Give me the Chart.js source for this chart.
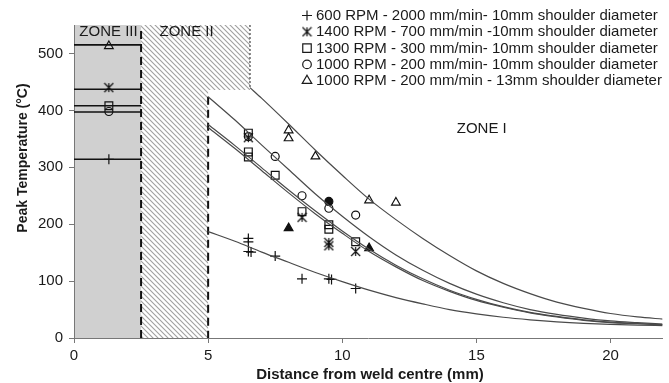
<!DOCTYPE html>
<html>
<head>
<meta charset="utf-8">
<script src="https://cdn.jsdelivr.net/npm/chart.js@4.4.1/dist/chart.umd.min.js"></script>
<style>
    html, body { margin: 0; padding: 0; background: #fff; }
    #wrap { width: 669px; height: 383px; }
</style>
</head>
<body>
<div id="wrap"><canvas id="tempChart" width="669" height="383"></canvas></div>
<script>
// Legend labels, in legend order
const seriesLabels = [
    '600 RPM - 2000 mm/min- 10mm shoulder diameter',
    '1400 RPM - 700 mm/min -10mm shoulder diameter',
    '1300 RPM - 300 mm/min- 10mm shoulder diameter',
    '1000 RPM - 200 mm/min- 10mm shoulder diameter',
    '1000 RPM - 200 mm/min - 13mm shoulder diameter'
];

// Zone boundaries (mm) and zone III plateau temperatures (same order as labels)
const zoneEdges = [2.5, 5, 6.56];
const zoneCutTemp = 436;
const zone3Temps = [314, 437, 408, 397, 515];

// Measured peak temperatures
const plusX = [1.3, 6.5, 6.5, 6.5, 6.6, 7.5, 8.5, 9.5, 9.6, 10.5];
const plusT = [314, 175, 169, 152, 151, 144, 104, 104, 103, 87];
const starX = [1.3, 6.5, 8.5, 9.5, 9.5, 10.5];
const starT = [440, 352, 212, 168, 162, 152];
const squareX = [1.3, 6.5, 6.5, 6.5, 7.5, 8.5, 9.5, 9.5, 10.5];
const squareT = [408, 360, 327, 318, 286, 222, 199, 191, 169];
const circleX = [1.3, 6.5, 7.5, 8.5, 9.5, 10.5];
const circleT = [398, 354, 319, 250, 228, 216];
const triX = [1.3, 8, 8, 9, 11, 12];
const triT = [513, 365, 351, 319, 242, 238];
const solidTriX = [8, 11];
const solidTriT = [193, 158];
const solidCircleX = [9.5];
const solidCircleT = [240];

// Fitted curves in zone I
const fitX = [5, 6, 7, 8, 9, 10, 11, 12, 13, 14, 15, 16, 17, 18, 19, 20, 21, 22];
const fitPlus = [187, 170, 151, 133, 115, 99, 84, 71, 60, 50, 42.5, 36.5, 32, 28.4, 25.8, 24, 22.6, 21.7];
const fitStar = [370, 333, 294, 255, 218, 184, 152, 125, 101, 82, 66, 54, 44, 37, 31, 27, 25, 23];
const fitSquare = [375, 338, 299, 260, 223, 188, 156, 128, 104, 84, 68, 55, 45, 38, 32, 28, 25.5, 23.6];
const fitCircle = [424, 383, 339, 296, 253, 214, 178, 146, 119, 96, 77, 62, 50, 41.5, 35, 30, 27, 24.5];
const fitTriX = [6.56, 7, 8, 9, 10, 11, 12, 13, 14, 15, 16, 17, 18, 19, 20, 21, 22];
const fitTri = [440, 421, 376, 330, 286, 244, 208, 175, 145, 118, 96, 78, 63, 52, 43, 37, 33];

const xTicks = [0, 5, 10, 15, 20];
const yTicks = [0, 100, 200, 300, 400, 500];

const FONT = "'Liberation Sans', Arial, sans-serif";
const INK = '#1a1a1a';

function pairs(xs, ys) {
    return xs.map((x, i) => ({ x: x, y: ys[i] }));
}

// Excel-style star: an X with a vertical bar
function makeStar(size) {
    const c = document.createElement('canvas');
    c.width = size;
    c.height = size;
    const g = c.getContext('2d');
    const m = size / 2, r = size / 2 - 1;
    g.strokeStyle = '#111';
    g.lineWidth = 1.2;
    g.beginPath();
    g.moveTo(m - r, m - r); g.lineTo(m + r, m + r);
    g.moveTo(m + r, m - r); g.lineTo(m - r, m + r);
    g.moveTo(m, m - r); g.lineTo(m, m + r);
    g.stroke();
    return c;
}
const starIcon = makeStar(11);

const seriesMarkers = ['cross', starIcon, 'rect', 'circle', 'triangle'];
const legendRadius = [5, 5, 6, 4.3, 5.5];

function makeHatch(ctx) {
    const c = document.createElement('canvas');
    c.width = 5;
    c.height = 5;
    const g = c.getContext('2d');
    g.strokeStyle = '#a0a0a0';
    g.lineWidth = 1.1;
    g.beginPath();
    g.moveTo(-1, -1); g.lineTo(6, 6);
    g.moveTo(-1, 4); g.lineTo(1, 6);
    g.moveTo(4, -1); g.lineTo(6, 1);
    g.stroke();
    return ctx.createPattern(c, 'repeat');
}

const zonePlugin = {
    id: 'zones',
    beforeDraw(chart) {
        const { ctx, chartArea: a, scales: { x, y } } = chart;
        const x0 = x.getPixelForValue(0);
        const xa = x.getPixelForValue(zoneEdges[0]);
        const xb = x.getPixelForValue(zoneEdges[1]);
        const xc = x.getPixelForValue(zoneEdges[2]);
        const yCut = y.getPixelForValue(zoneCutTemp);
        ctx.save();
        ctx.fillStyle = '#d0d0d0';
        ctx.fillRect(x0, a.top, xa - x0, a.bottom - a.top);
        ctx.fillStyle = makeHatch(ctx);
        ctx.beginPath();
        ctx.moveTo(xa, a.top);
        ctx.lineTo(xc, a.top);
        ctx.lineTo(xc, yCut);
        ctx.lineTo(xb, yCut);
        ctx.lineTo(xb, a.bottom);
        ctx.lineTo(xa, a.bottom);
        ctx.closePath();
        ctx.fill();
        ctx.restore();
    },
    beforeDatasetsDraw(chart) {
        const { ctx, chartArea: a, scales: { x, y } } = chart;
        ctx.save();
        ctx.strokeStyle = '#111';
        ctx.lineWidth = 2;
        ctx.setLineDash([8, 5]);
        ctx.beginPath();
        ctx.moveTo(x.getPixelForValue(zoneEdges[0]), a.top + 6);
        ctx.lineTo(x.getPixelForValue(zoneEdges[0]), a.bottom);
        ctx.moveTo(x.getPixelForValue(zoneEdges[1]), y.getPixelForValue(fitCircle[0]));
        ctx.lineTo(x.getPixelForValue(zoneEdges[1]), a.bottom);
        ctx.stroke();
        ctx.strokeStyle = '#666';
        ctx.lineWidth = 1.5;
        ctx.setLineDash([2, 2]);
        ctx.beginPath();
        ctx.moveTo(x.getPixelForValue(zoneEdges[2]), a.top);
        ctx.lineTo(x.getPixelForValue(zoneEdges[2]), y.getPixelForValue(fitTri[0]));
        ctx.stroke();
        ctx.restore();
    },
    afterDraw(chart) {
        const { ctx, chartArea: a, scales: { x, y } } = chart;
        ctx.save();
        ctx.fillStyle = INK;
        ctx.textBaseline = 'middle';
        ctx.textAlign = 'center';
        ctx.font = '15px ' + FONT;
        ctx.fillText('ZONE III', (x.getPixelForValue(0) + x.getPixelForValue(zoneEdges[0])) / 2 + 1, a.top + 7);
        ctx.fillText('ZONE II', (x.getPixelForValue(zoneEdges[0]) + x.getPixelForValue(zoneEdges[1])) / 2 + 12, a.top + 7);
        ctx.fillText('ZONE I', x.getPixelForValue(15.2), y.getPixelForValue(367));

        // legend
        ctx.textAlign = 'left';
        seriesLabels.forEach((label, i) => {
            const ly = 15.5 + i * 16.3;
            ctx.strokeStyle = INK;
            ctx.fillStyle = 'rgba(0,0,0,0)';
            ctx.lineWidth = 1.2;
            Chart.helpers.drawPoint(ctx, { pointStyle: seriesMarkers[i], radius: legendRadius[i], borderWidth: 1.2, rotation: 0 }, 307, ly);
            ctx.fillStyle = INK;
            ctx.fillText(label, 316, ly + 0.5);
        });

        // axis titles
        ctx.font = 'bold 15px ' + FONT;
        ctx.textAlign = 'center';
        ctx.fillText('Distance from weld centre (mm)', 370, 375);
        ctx.translate(23, 158);
        ctx.rotate(-Math.PI / 2);
        ctx.font = 'bold 14px ' + FONT;
        ctx.fillText('Peak Temperature (°C)', 0, 0);
        ctx.restore();
    }
};

function markerSet(xs, ys, style, radius, filled) {
    return {
        data: pairs(xs, ys),
        pointStyle: style,
        pointRadius: radius,
        pointBorderWidth: 1.2,
        pointBorderColor: '#111',
        pointBackgroundColor: filled ? '#111' : 'rgba(0,0,0,0)',
        showLine: false
    };
}

function curveSet(xs, ys) {
    return {
        data: pairs(xs, ys),
        showLine: true,
        borderColor: '#4a4a4a',
        borderWidth: 1.2,
        pointRadius: 0,
        cubicInterpolationMode: 'monotone'
    };
}

function plateauSet(v) {
    return {
        data: [{ x: 0, y: v }, { x: zoneEdges[0], y: v }],
        showLine: true,
        borderColor: '#111',
        borderWidth: 1.6,
        pointRadius: 0
    };
}

function initChart() {
    const ctx = document.getElementById('tempChart').getContext('2d');
    const datasets = [];
    zone3Temps.forEach(v => datasets.push(plateauSet(v)));
    datasets.push(curveSet(fitX, fitPlus));
    datasets.push(curveSet(fitX, fitStar));
    datasets.push(curveSet(fitX, fitSquare));
    datasets.push(curveSet(fitX, fitCircle));
    datasets.push(curveSet(fitTriX, fitTri));
    datasets.push(markerSet(plusX, plusT, 'cross', 5, false));
    datasets.push(markerSet(starX, starT, starIcon, 5, false));
    datasets.push(markerSet(squareX, squareT, 'rect', 5.5, false));
    datasets.push(markerSet(circleX, circleT, 'circle', 4, false));
    datasets.push(markerSet(triX, triT, 'triangle', 5, false));
    datasets.push(markerSet(solidTriX, solidTriT, 'triangle', 5, true));
    datasets.push(markerSet(solidCircleX, solidCircleT, 'circle', 4, true));

    new Chart(ctx, {
        type: 'scatter',
        data: { datasets: datasets },
        options: {
            responsive: false,
            animation: false,
            layout: { padding: { top: 25, right: 0, left: 0, bottom: 0 } },
            plugins: {
                legend: { display: false },
                tooltip: { enabled: false }
            },
            scales: {
                x: {
                    type: 'linear',
                    min: 0,
                    max: 21.93,
                    afterBuildTicks: s => { s.ticks = xTicks.map(v => ({ value: v })); },
                    afterFit: s => { s.height = 45; },
                    ticks: { color: INK, font: { family: FONT, size: 15 }, padding: 4, maxRotation: 0 },
                    grid: { drawOnChartArea: false, tickLength: 5, color: '#777' },
                    border: { color: '#777', width: 1 }
                },
                y: {
                    min: 0,
                    max: 550,
                    afterBuildTicks: s => { s.ticks = yTicks.map(v => ({ value: v })); },
                    afterFit: s => { s.width = 74; },
                    ticks: { color: INK, font: { family: FONT, size: 15 }, padding: 6 },
                    grid: { drawOnChartArea: false, tickLength: 5, color: '#777' },
                    border: { color: '#777', width: 1 }
                }
            }
        },
        plugins: [zonePlugin]
    });
}

document.addEventListener('DOMContentLoaded', initChart);
</script>
</body>
</html>
